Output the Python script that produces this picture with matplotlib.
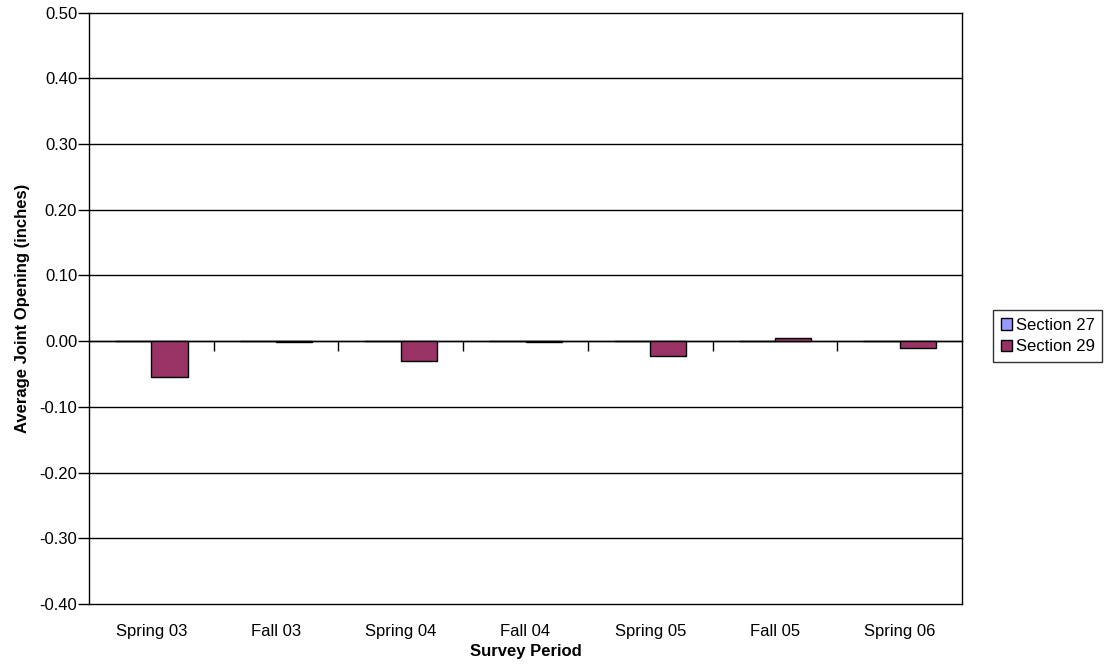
import matplotlib
matplotlib.use("Agg")
import matplotlib.pyplot as plt
from matplotlib.transforms import blended_transform_factory

plt.rcParams['font.family'] = ['Liberation Sans', 'DejaVu Sans']

categories = ["Spring 03", "Fall 03", "Spring 04", "Fall 04", "Spring 05", "Fall 05", "Spring 06"]
section27 = [0.0, 0.0, 0.0, 0.0, 0.0, 0.0, 0.0]
section29 = [-0.055, -0.001, -0.031, -0.001, -0.022, 0.005, -0.010]
yticks = [-0.40, -0.30, -0.20, -0.10, 0.00, 0.10, 0.20, 0.30, 0.40, 0.50]

FS = 12

fig = plt.figure(figsize=(11.04, 6.66), dpi=100)
ax = fig.add_axes([0.0806, 0.0931, 0.8714 - 0.0806, 0.9812 - 0.0931])

n = len(categories)
w = 0.29
xs = [i + 0.5 for i in range(n)]
ax.bar([x - w / 2 for x in xs], section27, width=w, color="#9999FF", edgecolor="black", linewidth=1, label="Section 27", zorder=3)
ax.bar([x + w / 2 for x in xs], section29, width=w, color="#993366", edgecolor="black", linewidth=1, label="Section 29", zorder=3)

ax.set_xlim(0, n)
ax.set_ylim(-0.40, 0.50)
ax.set_yticks(yticks)
ax.set_yticklabels([f"{v:.2f}" for v in yticks], fontsize=FS)
for v in yticks:
    ax.axhline(v, color="black", linewidth=1, zorder=1, clip_on=False)
ax.tick_params(axis='y', length=8, width=1, direction='out', pad=0.5)

ax.spines['top'].set_visible(False)
ax.spines['bottom'].set_position(('data', 0))
ax.spines['bottom'].set_linewidth(1)
ax.spines['left'].set_linewidth(1)
ax.spines['right'].set_linewidth(1)
ax.set_xticks(list(range(1, n)))
ax.set_xticklabels([])
ax.tick_params(axis='x', length=7, width=1, direction='out', color='black')

trans = blended_transform_factory(ax.transData, ax.transAxes)
for x, c in zip(xs, categories):
    ax.annotate(c, xy=(x, 0), xycoords=trans, xytext=(0, -20), textcoords='offset points',
                ha='center', va='center', fontsize=FS)
ax.annotate("Survey Period", xy=(0.5, 0), xycoords='axes fraction', xytext=(0, -34.5),
            textcoords='offset points', ha='center', va='center', fontsize=FS, fontweight='bold')
ax.set_ylabel("Average Joint Opening (inches)", fontsize=FS, fontweight='bold', labelpad=7)

leg = fig.legend(loc='center left', bbox_to_anchor=(0.8995, 0.4955), fontsize=FS, frameon=True,
                 fancybox=False, edgecolor='black', handlelength=0.7, handleheight=0.7,
                 handletextpad=0.2, borderpad=0.45, labelspacing=0.4, borderaxespad=0)
leg.get_frame().set_linewidth(1)

fig.savefig("out.png", dpi=100)
